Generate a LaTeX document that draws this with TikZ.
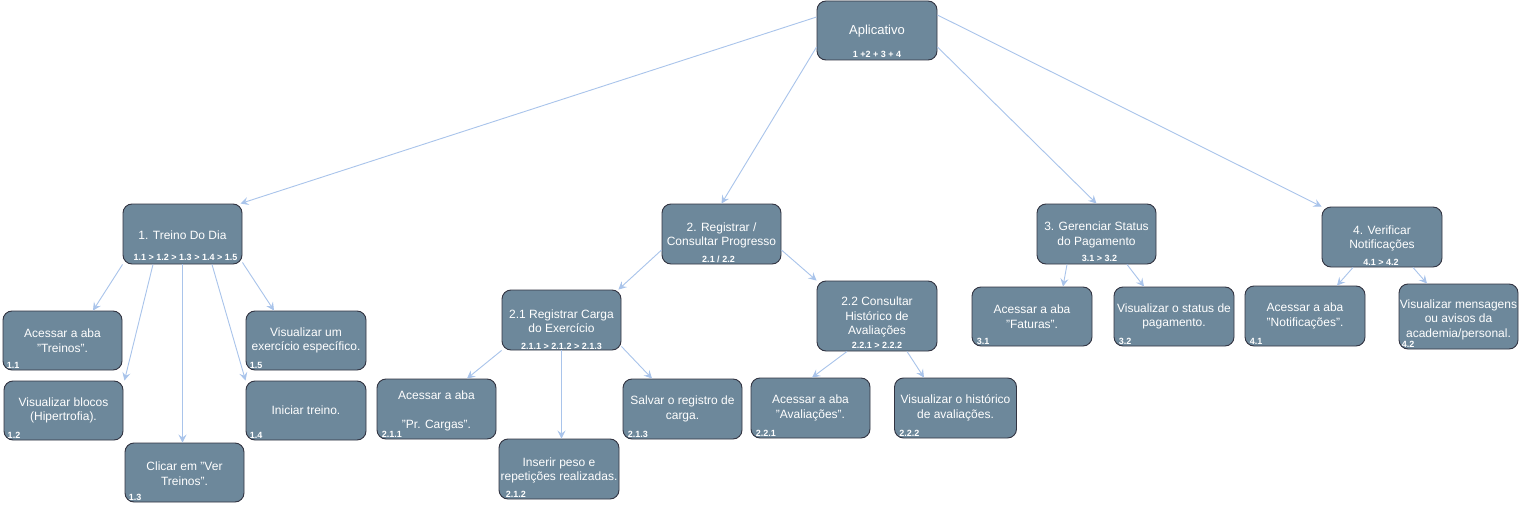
\documentclass[tikz,border=0pt]{standalone}
\usepackage{fontspec}
\setmainfont{Liberation Sans}
\usetikzlibrary{calc,arrows.meta}
\definecolor{boxfill}{RGB}{109,136,155}
\definecolor{boxline}{RGB}{50,52,66}
\definecolor{edgeblue}{RGB}{169,196,235}
\begin{document}
\begin{tikzpicture}[x=1pt,y=-1pt,
  box/.style={draw=boxline, fill=boxfill, rounded corners=9pt, line width=0.9pt, minimum width=119pt, minimum height=59pt, inner sep=0pt},
  txt/.style={text=white, font=\fontsize{12}{14.5}\selectfont, align=center, inner sep=0pt},
  ttl/.style={text=white, font=\fontsize{13}{15}\selectfont, align=center, inner sep=0pt},
  sub/.style={text=white, font=\fontsize{9}{10}\selectfont\bfseries, inner sep=0pt, anchor=base},
  num/.style={text=white, font=\fontsize{9}{10}\selectfont\bfseries, inner sep=0pt, anchor=base west},
  edge/.style={draw=edgeblue, line width=0.9pt, -{Stealth[length=8pt,width=8pt,inset=3pt]}}]
\useasboundingbox (0,0) rectangle (1519,511);
\fill[white] (0,0) rectangle (1519,511);

% boxes
\node[box, minimum width=120pt] (app) at (877,30.5) {};
\node[box, minimum height=60pt] (n1) at (182.5,234) {};
\node[box] (n11) at (62.5,340.5) {};
\node[box] (n12) at (63.5,410.5) {};
\node[box] (n13) at (184.5,472.5) {};
\node[box, minimum width=120pt] (n14) at (306,410.5) {};
\node[box, minimum width=120pt] (n15) at (306,340.5) {};
\node[box, minimum height=60pt] (n2) at (721.5,234) {};
\node[box, minimum height=60pt] (n21) at (561.5,320) {};
\node[box, minimum height=60pt] (n211) at (436.5,409) {};
\node[box, minimum width=120pt, minimum height=60pt] (n212) at (559,469) {};
\node[box, minimum height=60pt] (n213) at (682.5,409) {};
\node[box, minimum width=120pt, minimum height=70pt] (n22) at (877,316) {};
\node[box, minimum height=60pt] (n221) at (810.5,408) {};
\node[box, minimum width=122pt, minimum height=60pt] (n222) at (955.5,408) {};
\node[box, minimum height=60pt] (n3) at (1096.5,234) {};
\node[box, minimum width=120pt] (n31) at (1032,316.5) {};
\node[box, minimum width=120pt] (n32) at (1174,316.5) {};
\node[box, minimum width=120pt, minimum height=60pt] (n4) at (1382,237) {};
\node[box, minimum width=120pt, minimum height=60pt] (n41) at (1305,316) {};
\node[box, minimum height=65pt] (n42) at (1458.5,316.5) {};

% title texts
\node[ttl] (tapp) at (877,31) {Aplicativo};
\node[sub] (sapp) at ($(app.south)+(0,-3)$) {1 +2 + 3 + 4};
\node[txt] (tn1) at (182.5,235) {1. Treino Do Dia};
\node[sub] (sn1) at ($(n1.south)+(3,-3.5)$) {1.1 > 1.2 > 1.3 > 1.4 > 1.5};
\node[txt] (tn2) at (721.5,235.5) {2. Registrar /\\Consultar Progresso};
\node[sub] (sn2) at ($(n2.south)+(-3,-2)$) {2.1 / 2.2};
\node[txt] (tn21) at (561.5,321) {2.1 Registrar Carga\\do Exercício};
\node[sub] (sn21) at ($(n21.south)+(0,-1)$) {2.1.1 > 2.1.2 > 2.1.3};
\node[txt] (tn22) at (877,317) {2.2 Consultar\\Histórico de\\Avaliações};
\node[sub] (sn22) at ($(n22.south)+(0,-3)$) {2.2.1 > 2.2.2};
\node[txt] (tn3) at (1096.5,235) {3. Gerenciar Status\\do Pagamento};
\node[sub] (sn3) at ($(n3.south)+(3,-3)$) {3.1 > 3.2};
\node[txt] (tn4) at (1382,238.5) {4. Verificar\\Notificações};
\node[sub] (sn4) at ($(n4.south)+(-1,-2)$) {4.1 > 4.2};

% leaf texts
\node[txt] (tn11) at (n11) {Acessar a aba\\"Treinos".};
\node[num] (nn11) at ($(n11.south west)+(4,-1.5)$) {1.1};
\node[txt] (tn12) at (n12) {Visualizar blocos\\(Hipertrofia).};
\node[num] (nn12) at ($(n12.south west)+(4,-1.5)$) {1.2};
\node[txt] (tn13) at ($(n13)+(0,1)$) {Clicar em "Ver\\Treinos".};
\node[num] (nn13) at ($(n13.south west)+(4,-1.5)$) {1.3};
\node[txt] (tn14) at (n14) {Iniciar treino.};
\node[num] (nn14) at ($(n14.south west)+(4,-1.5)$) {1.4};
\node[txt] (tn15) at (n15) {Visualizar um\\exercício específico.};
\node[num] (nn15) at ($(n15.south west)+(4,-1.5)$) {1.5};
\node[txt] (tn211) at ($(n211)+(0,1.5)$) {Acessar a aba\\[14.5pt]"Pr. Cargas".};
\node[num] (nn211) at ($(n211.south west)+(5,-1.5)$) {2.1.1};
\node[txt] (tn212) at ($(n212)+(0,1.5)$) {Inserir peso e\\repetições realizadas.};
\node[num] (nn212) at ($(n212.south west)+(7,-1.5)$) {2.1.2};
\node[txt] (tn213) at (n213) {Salvar o registro de\\carga.};
\node[num] (nn213) at ($(n213.south west)+(5,-1.5)$) {2.1.3};
\node[txt] (tn221) at (n221) {Acessar a aba\\"Avaliações".};
\node[num] (nn221) at ($(n221.south west)+(5,-1.5)$) {2.2.1};
\node[txt] (tn222) at (n222) {Visualizar o histórico\\de avaliações.};
\node[num] (nn222) at ($(n222.south west)+(5,-1.5)$) {2.2.2};
\node[txt] (tn31) at (n31) {Acessar a aba\\"Faturas".};
\node[num] (nn31) at ($(n31.south west)+(5,-1.5)$) {3.1};
\node[txt] (tn32) at (n32) {Visualizar o status de\\pagamento.};
\node[num] (nn32) at ($(n32.south west)+(5,-1.5)$) {3.2};
\node[txt] (tn41) at (n41) {Acessar a aba\\"Notificações".};
\node[num] (nn41) at ($(n41.south west)+(5,-1.5)$) {4.1};
\node[txt] (tn42) at ($(n42)+(0,3)$) {Visualizar mensagens\\ou avisos da\\academia/personal.};
\node[num] (nn42) at ($(n42.south west)+(3,-1.5)$) {4.2};

% edges
\draw[edge] ($(app.west)+(0,-13.5)$) -- ($(n1.north east)+(-2,0)$);
\draw[edge] ($(app.west)+(0,16.5)$) -- (n2.north);
\draw[edge] ($(app.east)+(0,16.5)$) -- (n3.north);
\draw[edge] ($(app.east)+(0,-15.5)$) -- (n4.north west);

\draw[edge] (n1.south west) -- ($(n11.north)+(30.5,0)$);
\draw[edge] ($(n1.south)+(-29.5,0)$) -- ($(n12.north east)+(1,0)$);
\draw[edge] (n1.south) -- (n1.south |- n13.north);
\draw[edge] ($(n1.south)+(29.5,0)$) -- (n14.north west);
\draw[edge] ($(n1.south east)+(0,-2)$) -- ($(n15.north)+(-32,0)$);

\draw[edge] ($(n2.west)+(0,16)$) -- ($(n21.north east)+(-3,0)$);
\draw[edge] ($(n2.east)+(0,16)$) -- (n22.north west);

\draw[edge] (n21.south west) -- ($(n211.north)+(30.5,0)$);
\draw[edge] (n21.south) -- (n21.south |- n212.north);
\draw[edge] ($(n21.south east)+(0,-4)$) -- ($(n213.north)+(-30.5,0)$);

\draw[edge] ($(n22.south)+(-30,0)$) -- ($(n221.north)+(1.5,0)$);
\draw[edge] ($(n22.south)+(30,0)$) -- ($(n222.north)+(-31.5,0)$);

\draw[edge] ($(n3.south)+(-29.5,0)$) -- ($(n31.north)+(31,0)$);
\draw[edge] ($(n3.south)+(30.5,0)$) -- ($(n32.north)+(-30,0)$);

\draw[edge] ($(n4.south)+(-29,0)$) -- ($(n41.north)+(32,0)$);
\draw[edge] ($(n4.south)+(31,0)$) -- ($(n42.north)+(-31.5,0)$);
\end{tikzpicture}
\end{document}
